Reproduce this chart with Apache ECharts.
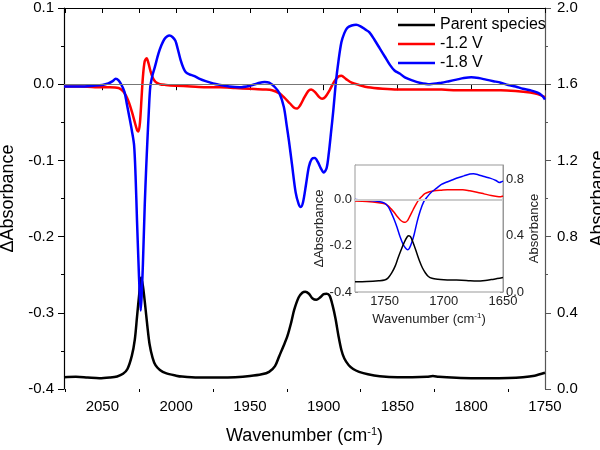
<!DOCTYPE html>
<html>
<head>
<meta charset="utf-8">
<script src="https://cdn.jsdelivr.net/npm/echarts@6.0.0/dist/echarts.min.js"></script>
<style>
  html, body { margin: 0; padding: 0; background: #fff; }
  #chart { width: 600px; height: 450px; }
</style>
</head>
<body>
<div id="chart"></div>
<script>
// main panel: wavenumber (cm-1) / value pairs
const parentX = [2076, 2068, 2060, 2052, 2045, 2040, 2036, 2033, 2030, 2028, 2026.5, 2025, 2023.8, 2022.5, 2021, 2019.5, 2018, 2016, 2014, 2011, 2007, 2000, 1996, 1985, 1970, 1960, 1950, 1942, 1937, 1933, 1930, 1927, 1924.5, 1922, 1920, 1917, 1914.5, 1912.5, 1910, 1907.5, 1905, 1902.5, 1900, 1898, 1896, 1894, 1892, 1890, 1888, 1886, 1883, 1880, 1876, 1870, 1862, 1850, 1840, 1830, 1826, 1822, 1810, 1800, 1790, 1775, 1765, 1757, 1750]
const parentY = [0.062, 0.064, 0.060, 0.056, 0.060, 0.066, 0.080, 0.105, 0.175, 0.26, 0.38, 0.50, 0.585, 0.54, 0.44, 0.33, 0.235, 0.165, 0.125, 0.10, 0.083, 0.07, 0.065, 0.06, 0.06, 0.062, 0.068, 0.077, 0.09, 0.12, 0.175, 0.23, 0.28, 0.35, 0.415, 0.48, 0.505, 0.51, 0.50, 0.475, 0.468, 0.48, 0.498, 0.50, 0.49, 0.44, 0.37, 0.28, 0.205, 0.16, 0.125, 0.105, 0.09, 0.077, 0.067, 0.062, 0.062, 0.064, 0.068, 0.064, 0.059, 0.057, 0.057, 0.058, 0.062, 0.07, 0.085]

const v12X = [2076, 2065, 2055, 2045, 2039, 2036, 2034, 2032, 2030, 2028, 2026.5, 2025.5, 2024.5, 2023.5, 2022.5, 2021.3, 2020, 2018.8, 2017.5, 2016, 2014, 2011, 2007, 2000, 1990, 1980, 1970, 1960, 1950, 1940, 1935, 1930, 1927, 1923, 1920, 1918, 1916, 1913, 1910.5, 1908.5, 1906, 1903, 1901, 1899, 1896, 1893, 1890, 1888, 1885, 1881, 1876, 1870, 1860, 1850, 1840, 1830, 1820, 1810, 1800, 1790, 1780, 1770, 1760, 1755, 1750]
const v12Y = [-0.003, -0.003, -0.004, -0.004, -0.005, -0.009, -0.015, -0.024, -0.036, -0.050, -0.060, -0.062, -0.050, -0.020, 0.010, 0.030, 0.034, 0.028, 0.018, 0.009, 0.003, 0.000, -0.001, -0.002, -0.003, -0.004, -0.004, -0.005, -0.006, -0.007, -0.008, -0.012, -0.017, -0.025, -0.031, -0.032, -0.028, -0.017, -0.009, -0.007, -0.010, -0.017, -0.019, -0.017, -0.008, 0.003, 0.010, 0.011, 0.007, 0.002, -0.001, -0.004, -0.006, -0.007, -0.007, -0.007, -0.007, -0.008, -0.008, -0.008, -0.008, -0.009, -0.011, -0.013, -0.017]

const v18X = [2076, 2065, 2056, 2050, 2046, 2043, 2041, 2039, 2037, 2035, 2033.5, 2032, 2030, 2028.5, 2027.5, 2026.5, 2025.5, 2024.8, 2024, 2023.2, 2022.5, 2021.3, 2020.3, 2019.5, 2018.5, 2017.5, 2016, 2014.5, 2012, 2010, 2008, 2006, 2004.5, 2002.5, 2000.5, 1999, 1997, 1995, 1993.5, 1991, 1988, 1984, 1980, 1975, 1970, 1964, 1957, 1950, 1945, 1940, 1937, 1933, 1930, 1927, 1925, 1923.5, 1921.5, 1919, 1917, 1915.5, 1914, 1912, 1910, 1908, 1906, 1904, 1902, 1900, 1898, 1896.5, 1895, 1893.5, 1891.7, 1890, 1888, 1886, 1884, 1881, 1878, 1875, 1872, 1869, 1865.5, 1862, 1858.5, 1855, 1852, 1848.5, 1845, 1840, 1835, 1828, 1820, 1815, 1810, 1805, 1800, 1795, 1790, 1785, 1780, 1775, 1770, 1765, 1760, 1755, 1752, 1750]
const v18Y = [-0.003, -0.003, -0.002, -0.001, 0.001, 0.004, 0.007, 0.005, -0.001, -0.010, -0.025, -0.040, -0.061, -0.080, -0.12, -0.18, -0.235, -0.27, -0.297, -0.27, -0.235, -0.16, -0.11, -0.075, -0.035, -0.003, 0.012, 0.022, 0.040, 0.051, 0.059, 0.063, 0.064, 0.062, 0.057, 0.047, 0.032, 0.021, 0.016, 0.013, 0.011, 0.007, 0.004, 0.001, -0.001, -0.003, -0.004, -0.002, 0.001, 0.003, 0.002, -0.004, -0.012, -0.030, -0.055, -0.075, -0.105, -0.142, -0.157, -0.161, -0.155, -0.132, -0.108, -0.098, -0.097, -0.102, -0.110, -0.116, -0.110, -0.090, -0.063, -0.035, 0.003, 0.030, 0.055, 0.067, 0.074, 0.077, 0.078, 0.076, 0.072, 0.068, 0.058, 0.047, 0.036, 0.025, 0.018, 0.014, 0.009, 0.005, 0.002, 0.000, 0.002, 0.004, 0.006, 0.008, 0.009, 0.008, 0.006, 0.004, 0.002, -0.001, -0.003, -0.006, -0.008, -0.011, -0.015, -0.020]

// inset panel
const insetParentX = [1775, 1765, 1755, 1750, 1747, 1744, 1741, 1738.5, 1736, 1733.5, 1731, 1729.5, 1728, 1725.5, 1723, 1720.5, 1718, 1715.5, 1713, 1710, 1705, 1700, 1692, 1685, 1678, 1672, 1665, 1660, 1655, 1650]
const insetParentY = [0.073, 0.075, 0.08, 0.085, 0.10, 0.135, 0.185, 0.245, 0.30, 0.35, 0.39, 0.398, 0.39, 0.34, 0.28, 0.22, 0.17, 0.135, 0.11, 0.097, 0.09, 0.087, 0.085, 0.084, 0.080, 0.078, 0.082, 0.088, 0.095, 0.102]

const insetV12X = [1775, 1765, 1755, 1750, 1747, 1744.5, 1742, 1739.5, 1737, 1734.5, 1732.5, 1730.5, 1728.5, 1726, 1723.5, 1721, 1718.5, 1716, 1712, 1708, 1702, 1697, 1690, 1684, 1678, 1672, 1666, 1660, 1655, 1652, 1650]
const insetV12Y = [-0.006, -0.008, -0.013, -0.018, -0.027, -0.040, -0.055, -0.072, -0.087, -0.096, -0.098, -0.090, -0.070, -0.045, -0.020, 0.000, 0.014, 0.026, 0.034, 0.038, 0.041, 0.043, 0.043, 0.043, 0.038, 0.032, 0.025, 0.018, 0.014, 0.013, 0.016]

const insetV18X = [1775, 1765, 1755, 1750, 1747, 1744.5, 1742, 1739.5, 1737, 1734.5, 1732, 1730.5, 1729, 1727, 1725, 1722.5, 1720, 1717, 1714, 1711, 1706, 1702, 1698, 1693, 1688, 1683, 1678, 1675, 1671, 1666, 1661, 1656, 1653, 1651, 1650]
const insetV18Y = [0.001, -0.003, -0.008, -0.015, -0.030, -0.055, -0.085, -0.12, -0.16, -0.192, -0.212, -0.217, -0.210, -0.185, -0.150, -0.095, -0.050, -0.010, 0.012, 0.030, 0.050, 0.066, 0.075, 0.085, 0.095, 0.103, 0.111, 0.112, 0.108, 0.100, 0.093, 0.083, 0.074, 0.078, 0.080]

// ticks and labels
const mainXLabels = [1750, 1800, 1850, 1900, 1950, 2000, 2050]
const mainXMinor = [1775, 1825, 1875, 1925, 1975, 2025, 2075]
const mainXTop = [1750, 1775, 1800, 1825, 1850, 1875, 1900, 1925, 1950, 1975, 2000, 2025, 2050, 2075]
const insetXLabels = [1650, 1700, 1750]
const insetXTicks = [1650, 1675, 1700, 1725, 1750, 1775]
const insetLeftLabels = [-0.4, -0.2, 0]
const insetLeftTicks = [-0.4, -0.3, -0.2, -0.1, 0, 0.1]
const insetRightLabels = [0, 0.4, 0.8]
const insetRightTicks = [0, 0.2, 0.4, 0.6, 0.8]

const FONT = 'Liberation Sans, Arial, sans-serif'
const zip = (xs, ys) => xs.map((x, i) => [x, ys[i]])
const fmt1 = v => v.toFixed(1)
const fmt0 = v => String(Math.round(v))

const chart = echarts.init(document.getElementById('chart'))

function curve(name, xs, ys, color, width, xi, yi, extra) {
  return Object.assign({
    name,
    type: 'line',
    data: zip(xs, ys),
    xAxisIndex: xi,
    yAxisIndex: yi,
    symbol: 'none',
    smooth: 0.3,
    lineStyle: { color, width },
    itemStyle: { color },
    silent: true,
  }, extra || {})
}

function zeroLine(value, color, width) {
  return {
    silent: true,
    symbol: 'none',
    label: { show: false },
    lineStyle: { color, width, type: 'solid' },
    data: [{ yAxis: value }],
  }
}

const labelStyle = { color: '#000', fontFamily: FONT, fontSize: 15 }
const insetLabel = { color: '#222', fontFamily: FONT, fontSize: 13 }

chart.setOption({
  animation: false,
  textStyle: { fontFamily: FONT },
  legend: {
    data: ['Parent species', '-1.2 V', '-1.8 V'],
    orient: 'vertical',
    left: 398,
    top: 16,
    icon: 'rect',
    itemWidth: 37,
    itemHeight: 2.5,
    itemGap: 1,
    padding: 0,
    textStyle: { fontFamily: FONT, fontSize: 16, color: '#000', lineHeight: 18 },
  },
  grid: [
    { left: 64, right: 55, top: 8, bottom: 61, outerBoundsMode: 'none' },
    { left: 355, top: 165, width: 148, height: 127, outerBoundsMode: 'none', show: true, backgroundColor: '#fff', borderColor: '#999', borderWidth: 1, z: 3 },
  ],
  xAxis: [
    { // main bottom, major ticks + labels
      type: 'value', gridIndex: 0, position: 'bottom', min: 1750, max: 2076, inverse: true,
      axisLine: { lineStyle: { color: '#000', width: 1.2 } },
      axisTick: { customValues: mainXLabels, length: 6, lineStyle: { color: '#000' } },
      axisLabel: Object.assign({ customValues: mainXLabels, formatter: fmt0, margin: 10 }, labelStyle),
      splitLine: { show: false },
      name: 'Wavenumber (cm{sup|-1})',
      nameLocation: 'middle',
      nameGap: 37,
      nameTextStyle: {
        color: '#000', fontFamily: FONT, fontSize: 18,
        rich: { sup: { fontSize: 11, fontFamily: FONT, color: '#000', verticalAlign: 'top', padding: [0, 0, 9, 0] } },
      },
    },
    { // main bottom, minor ticks
      type: 'value', gridIndex: 0, position: 'bottom', min: 1750, max: 2076, inverse: true,
      axisLine: { show: false },
      axisTick: { customValues: mainXMinor, length: 3, lineStyle: { color: '#000' } },
      axisLabel: { show: false },
      splitLine: { show: false },
    },
    { // main top mirror
      type: 'value', gridIndex: 0, position: 'top', min: 1750, max: 2076, inverse: true,
      axisLine: { lineStyle: { color: '#000', width: 1.2 } },
      axisTick: { customValues: mainXTop, inside: true, length: 5, lineStyle: { color: '#000' } },
      axisLabel: { show: false },
      splitLine: { show: false },
    },
    { // inset bottom
      type: 'value', gridIndex: 1, position: 'bottom', min: 1650, max: 1775, inverse: true,
      axisLine: { lineStyle: { color: '#999' } },
      axisTick: { customValues: insetXTicks, inside: true, length: 3, lineStyle: { color: '#999' } },
      axisLabel: Object.assign({ customValues: insetXLabels, formatter: fmt0, margin: 3 }, insetLabel),
      splitLine: { show: false },
      name: 'Wavenumber (cm{sup|-1})',
      nameLocation: 'middle',
      nameGap: 20,
      nameTextStyle: {
        color: '#222', fontFamily: FONT, fontSize: 13,
        rich: { sup: { fontSize: 8, fontFamily: FONT, color: '#222', verticalAlign: 'top', padding: [0, 0, 6, 0] } },
      },
    },
  ],
  yAxis: [
    { // main left
      type: 'value', gridIndex: 0, position: 'left', min: -0.4, max: 0.1, interval: 0.1,
      axisLine: { show: true, lineStyle: { color: '#000', width: 1.2 } },
      axisTick: { show: true, length: 6, lineStyle: { color: '#000' } },
      minorTick: { show: true, splitNumber: 2, length: 3, lineStyle: { color: '#000' } },
      axisLabel: Object.assign({ formatter: fmt1, margin: 10 }, labelStyle),
      splitLine: { show: false },
      name: 'ΔAbsorbance', nameLocation: 'middle', nameGap: 43,
      nameTextStyle: { color: '#000', fontFamily: FONT, fontSize: 18 },
    },
    { // main right
      type: 'value', gridIndex: 0, position: 'right', min: 0, max: 2, interval: 0.4,
      axisLine: { show: true, lineStyle: { color: '#555', width: 1.2 } },
      axisTick: { show: true, length: 6, lineStyle: { color: '#555' } },
      minorTick: { show: true, splitNumber: 2, length: 3, lineStyle: { color: '#555' } },
      axisLabel: Object.assign({ formatter: fmt1, margin: 12 }, labelStyle),
      splitLine: { show: false },
      name: 'Absorbance', nameLocation: 'middle', nameGap: 41,
      nameTextStyle: { color: '#000', fontFamily: FONT, fontSize: 18 },
    },
    { // inset left
      type: 'value', gridIndex: 1, position: 'left', min: -0.4, max: 0.15,
      axisLine: { show: true, lineStyle: { color: '#999' } },
      axisTick: { show: true, customValues: insetLeftTicks, inside: true, length: 3, lineStyle: { color: '#999' } },
      axisLabel: Object.assign({ customValues: insetLeftLabels, formatter: fmt1, margin: 3 }, insetLabel),
      splitLine: { show: false },
      name: 'ΔAbsorbance', nameLocation: 'middle', nameGap: 24,
      nameTextStyle: { color: '#222', fontFamily: FONT, fontSize: 13 },
    },
    { // inset right
      type: 'value', gridIndex: 1, position: 'right', min: 0, max: 0.9,
      axisLine: { show: true, lineStyle: { color: '#999' } },
      axisTick: { show: true, customValues: insetRightTicks, inside: true, length: 3, lineStyle: { color: '#999' } },
      axisLabel: Object.assign({ customValues: insetRightLabels, formatter: fmt1, margin: 3 }, insetLabel),
      splitLine: { show: false },
      name: 'Absorbance', nameLocation: 'middle', nameGap: 23,
      nameTextStyle: { color: '#222', fontFamily: FONT, fontSize: 13 },
    },
  ],
  series: [
    curve('Parent species', parentX, parentY, '#000', 2.5, 0, 1, { markLine: zeroLine(1.6, '#777', 1.2) }),
    curve('-1.2 V', v12X, v12Y, '#ff0000', 2.5, 0, 0),
    curve('-1.8 V', v18X, v18Y, '#0000ff', 2.5, 0, 0),
    curve('inset -1.2 V', insetV12X, insetV12Y, '#ff0000', 1.5, 3, 2, { markLine: zeroLine(0, '#ccc', 2), z: 4 }),
    curve('inset -1.8 V', insetV18X, insetV18Y, '#0000ff', 1.5, 3, 2, { z: 4 }),
    curve('inset parent', insetParentX, insetParentY, '#000', 1.5, 3, 3, { z: 4 }),
  ],
})

window.addEventListener('resize', () => chart.resize())
</script>
</body>
</html>
